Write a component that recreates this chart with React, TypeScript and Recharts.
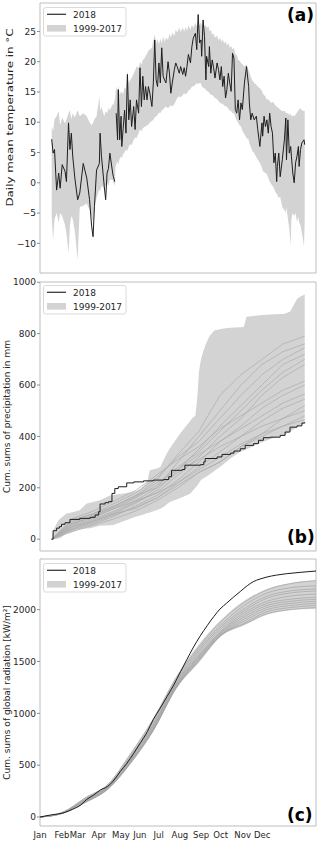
import React from 'react';
import { ComposedChart, Line, Area, XAxis, YAxis, ReferenceArea } from 'recharts';

const FONT = '"DejaVu Sans", sans-serif';

// (a) daily mean temperature, day of year
const tempDays = [
  0, 2, 4, 7, 10, 12, 15, 19, 21, 24,
  26, 28, 30, 33, 37, 40, 45, 50, 54, 57,
  59, 61, 64, 68, 69, 71, 75, 77, 79, 81,
  83, 87, 88, 90, 91, 92, 94, 95, 97, 99,
  100, 102, 104, 106, 108, 110, 112, 114, 117, 119,
  121, 124, 126, 128, 130, 132, 134, 136, 138, 140,
  143, 145, 147, 149, 151, 153, 155, 157, 159, 161,
  163, 166, 168, 170, 172, 175, 177, 179, 182, 184,
  187, 189, 191, 193, 195, 198, 200, 202, 205, 207,
  209, 211, 213, 214, 216, 218, 220, 221, 224, 225,
  227, 229, 231, 233, 236, 238, 240, 242, 244, 246,
  248, 250, 252, 254, 256, 258, 260, 262, 264, 266,
  268, 270, 272, 275, 278, 281, 282, 284, 286, 289,
  292, 294, 297, 300, 301, 303, 305, 307, 309, 311,
  313, 315, 317, 319, 321, 322, 324, 326, 329, 332,
  334, 335, 337, 339, 341, 342, 344, 346, 348, 350,
  352, 353, 355, 357, 360, 361,
];
const temp2018 = [
  7.2, 4.9, 5.5, -1.2, 1.6, -0.9, 3, 1.9, 0.2, 9.9,
  5.5, 8.2, 4.4, 0.8, -2.8, -1.7, 3.2, 0.8, -2.8, -7.2,
  -8.9, -3.9, 2.1, 3.2, 8.2, 4.4, -0.6, -2.8, 1.6, 2.4,
  4.9, 1.6, 1, 0.2, null, 11.5, 7.1, 15.4, 7.1, 11,
  6, 9, 12, 8.2, 17.9, 10.4, 13.7, 9.3, 12.6, 8.8,
  13.7, 11.5, 19, 12.6, 17.6, 13.7, 15.9, 13.7, 15.9, 14.8,
  12.6, 16.5, 23.6, 17, 15.9, 19.8, 16.5, 22.3, 17.6, 17,
  16.5, 20, 18.1, 14.8, 16.5, 18.7, 19.8, 19.2, 18.1, 19.2,
  17.9, 19, 17.6, 19.2, 21.2, 19.8, 22.5, 23.9, 24.7, 22,
  27.8, 23.1, 23.6, 20.9, 26.9, 24.2, 17, 20.9, 19.2, 22.5,
  18.1, 20.3, 19, 17.3, 19.8, 18.7, 17, 19.2, 15.9, 17.6,
  14, 15.4, 18.1, 16.5, 15.1, 21.4, 20.6, 12.1, 11.5, 13.7,
  10.4, 13.2, 12.1, 16.5, 19.2, 15.9, 13.2, 10.4, 11.5, 10.4,
  11, 8.8, 6, 9.9, 7.7, 11, 9.3, 10.4, 8.2, 11.5,
  9.3, 8.2, 3.3, 4.9, 0.2, 2.7, 4.9, 1, 3.8, 7.1,
  10.7, 3.8, 10.4, 4.9, 6, 4.4, 1.6, 0, 3.3, 4.4,
  6, 2.7, 5.5, 6.6, 7.1, 6.3,
];
const tempLow = [
  -5.6, -9.4, -6, -5, -6.5, -5, -5.5, -7, -8.3, -11.6,
  -7, -5.5, -6, -8, -12.7, -4, -3.8, -3.4, -4.5, -5.5,
  -6.5, -4, -2.5, -1, -1.5, -0.5, -1, -0.5, 0, -0.5,
  0.5, 0.5, 0, -0.5, 2.5, 3, 3.5, 3, 4, 4.4,
  4, 4.8, 5, 5.5, 5.3, 6, 6.4, 6.2, 7.1, 7.5,
  7.4, 8.2, 8.8, 8.5, 9, 9.2, 9.3, 9.5, 9.6, 10,
  10.2, 10.4, 10.8, 11, 11.2, 11.6, 11.5, 12, 12.1, 12.4,
  12.6, 12.3, 12.6, 12.8, 12.6, 13, 13.5, 14, 14.3, 14.1,
  14.5, 14.8, 14.6, 14.8, 15.2, 15.5, 15.9, 15.9, 16.2, 16.5,
  16.3, 16.5, 16.4, 16, 15.7, 15.6, 15.4, 15.2, 15, 14.8,
  14.6, 14.5, 14.3, 14, 13.8, 13.5, 13.2, 13.1, 13, 12.8,
  12.6, 12.6, 12.2, 12, 11.8, 11.5, 11.5, 10.8, 10.3, 9.9,
  9.5, 9.3, 8.6, 8, 7.4, 7.1, 6.5, 6, 5.3, 4.9,
  4.2, 3.8, 3.3, 2.5, 2, 1.8, 1.6, 1.4, 0.8, 0.2,
  -0.2, -0.5, -0.8, -1.5, -1.8, -2, -2.5, -2.3, -4, -4.5,
  -5, -4, -6, -7.5, -10.5, -6, -5, -5.5, -5, -6.5,
  -5.6, -6.5, -7, -8.3, -10.5, -6,
];
const tempHigh = [
  9.3, 8.5, 10.5, 11, 11.8, 9.5, 10.8, 9.8, 10.4, 11.5,
  12, 10.5, 11.5, 10.8, 12, 11, 11.5, 11, 10, 9.5,
  9.9, 10.5, 11, 14.3, 12, 12.5, 11, 11.8, 11.5, 12.3,
  12, 13, 12.8, 13.7, 14.5, 15.9, 15, 16, 14.5, 15.2,
  14.8, 14.8, 15.8, 15.5, 18.5, 16.5, 17, 17.3, 18, 18.5,
  19.2, 19, 20, 19.5, 20.3, 20.5, 21, 21.3, 21.8, 22,
  22.3, 23.5, 24.5, 23, 23.8, 22.9, 23.8, 23.1, 24.2, 23.2,
  24, 23.6, 24.6, 24, 24.8, 24.3, 25.3, 24.8, 25.6, 24.9,
  25.6, 25, 25.7, 25.1, 26, 25.3, 26.1, 25.6, 26.4, 25.8,
  26.5, 26, 26.6, 26, 26.5, 25.8, 26.1, 25.6, 25.8, 25,
  25.3, 24.5, 24.6, 24, 24.3, 23.5, 24, 23.3, 23.7, 23,
  23.4, 22.7, 23.1, 22.3, 22.6, 22, 22.3, 21.2, 21.2, 20.3,
  20.2, 19.8, 19.6, 19.2, 19.5, 18.5, 18.2, 17.5, 17, 16.5,
  16.2, 15.9, 15.6, 15.2, 14.8, 14.5, 14.2, 13.7, 13.8, 13.5,
  13.2, 13.4, 13.2, 12.8, 12.6, 12.5, 12.3, 12.1, 11.8, 11.9,
  11.6, 11.5, 11.5, 11.2, 11.4, 11, 11.1, 11, 11.3, 11.6,
  12, 12.1, 12.3, 12, 11.8, 12,
];

// (b) cumulative precipitation
const precipDays2018 = [
  0, 2, 7, 11, 14, 19, 26, 40, 55, 62,
  67, 69, 76, 81, 86, 90, 95, 107, 117, 131,
  145, 160, 167, 171, 186, 190, 212, 217, 219, 236,
  243, 255, 260, 269, 276, 288, 295, 302, 312, 326,
  333, 340, 350, 357, 361,
];
const precip2018 = [
  0, 33, 43, 49, 58, 64, 77, 81, 85, 94,
  107, 137, 142, 146, 178, 197, 204, 219, 223, 227,
  230, 232, 243, 268, 271, 288, 290, 301, 314, 320,
  330, 335, 343, 352, 365, 372, 385, 395, 397, 404,
  417, 436, 441, 452, 455,
];
const precipBandDays = [
  0, 2, 6, 10, 12, 21, 30, 36, 40, 50,
  55, 69, 83, 88, 107, 121, 126, 136, 140, 150,
  155, 160, 164, 169, 183, 198, 200, 205, 208, 210,
  213, 216, 220, 225, 232, 240, 245, 255, 269, 274,
  278, 298, 317, 331, 340, 345, 350, 355, 361,
];
const precipLow = [
  0, 0, 1, 3, 4, 23, 28, 36, 38, 42,
  43, 52, 54, 55, 75, 88, 92, 101, 104, 114,
  118, 126, 135, 146, 159, 178, 185, 200, 210, 218,
  230, 236, 242, 252, 265, 281, 292, 314, 340, 345,
  350, 375, 395, 404, 420, 427, 436, 444, 450,
];
const precipHigh = [
  0, 30, 55, 75, 80, 100, 105, 110, 113, 139,
  142, 152, 170, 172, 180, 188, 195, 220, 268, 275,
  281, 310, 333, 355, 410, 462, 470, 480, 560, 650,
  700, 730, 760, 790, 812, 817, 820, 823, 825, 826,
  866, 872, 875, 876, 885, 910, 935, 945, 952,
];
const precipYearDays = [0, 30, 60, 90, 120, 150, 180, 210, 240, 270, 300, 330, 361];
const precipYears = [
  [0, 60, 90, 130, 170, 230, 330, 420, 560, 640, 700, 760, 790],
  [0, 50, 80, 110, 150, 200, 300, 400, 500, 600, 680, 730, 760],
  [0, 70, 100, 140, 180, 240, 320, 380, 470, 560, 640, 700, 745],
  [0, 40, 70, 100, 140, 190, 270, 350, 440, 520, 600, 680, 720],
  [0, 55, 85, 120, 160, 210, 280, 340, 420, 500, 580, 650, 700],
  [0, 45, 75, 105, 145, 180, 250, 320, 400, 470, 560, 630, 680],
  [0, 80, 110, 150, 190, 250, 310, 360, 430, 480, 530, 580, 615],
  [0, 35, 60, 90, 130, 170, 230, 300, 380, 440, 510, 560, 600],
  [0, 65, 95, 125, 165, 220, 270, 330, 380, 430, 480, 530, 565],
  [0, 50, 70, 100, 120, 160, 220, 280, 340, 400, 460, 510, 545],
  [0, 30, 55, 80, 110, 150, 200, 260, 300, 360, 410, 470, 520],
  [0, 75, 100, 130, 170, 200, 260, 310, 360, 400, 440, 470, 500],
  [0, 40, 65, 95, 125, 160, 210, 260, 300, 360, 400, 440, 480],
  [0, 60, 90, 120, 150, 180, 220, 270, 320, 370, 410, 440, 465],
];

// (c) cumulative global radiation
const radDays2018 = [
  0, 14, 32, 43, 54, 62, 71, 80, 89, 98,
  106, 115, 124, 133, 142, 150, 159, 168, 177, 186,
  194, 203, 212, 221, 230, 238, 247, 256, 265, 274,
  282, 291, 300, 313, 326, 344, 365,
];
const rad2018 = [
  0, 19, 42, 74, 116, 171, 212, 261, 293, 357,
  438, 518, 615, 718, 824, 943, 1050, 1162, 1275, 1404,
  1516, 1639, 1748, 1845, 1935, 2006, 2064, 2122, 2176, 2231,
  2270, 2296, 2315, 2334, 2347, 2360, 2373,
];
const radYearDays = [0, 30, 60, 90, 120, 150, 180, 210, 240, 270, 300, 330, 365];
const radLow = [0, 35, 140, 265, 515, 830, 1240, 1490, 1745, 1850, 1950, 1995, 2009];
const radHigh = [0, 50, 190, 320, 620, 955, 1355, 1665, 1905, 2085, 2200, 2255, 2283];
const radYears = [
  [0, 45, 185, 315, 610, 945, 1340, 1640, 1890, 2070, 2190, 2250, 2280],
  [0, 42, 175, 305, 590, 920, 1320, 1620, 1860, 2040, 2160, 2210, 2230],
  [0, 40, 170, 300, 580, 900, 1300, 1600, 1840, 2010, 2130, 2180, 2200],
  [0, 44, 165, 295, 570, 890, 1290, 1580, 1820, 1990, 2110, 2160, 2180],
  [0, 38, 160, 290, 560, 880, 1280, 1560, 1800, 1970, 2080, 2130, 2150],
  [0, 41, 155, 285, 550, 870, 1270, 1550, 1790, 1950, 2060, 2100, 2120],
  [0, 39, 150, 280, 540, 860, 1260, 1540, 1780, 1930, 2040, 2080, 2100],
  [0, 37, 148, 278, 535, 850, 1255, 1530, 1770, 1910, 2020, 2060, 2080],
  [0, 36, 145, 275, 530, 845, 1250, 1520, 1760, 1890, 2000, 2040, 2060],
  [0, 36, 142, 272, 525, 840, 1245, 1510, 1760, 1870, 1980, 2020, 2040],
  [0, 35, 140, 270, 520, 835, 1240, 1500, 1755, 1860, 1960, 2000, 2020],
];

const dayTicks = [0, 30, 60, 90, 120, 150, 180, 210, 240, 270, 300, 330, 360];
const monthTickDays = [0, 29, 50, 78, 107, 132, 157, 185, 213, 239, 268, 294];
const monthLabels = ['Jan', 'Feb', 'Mar', 'Apr', 'May', 'Jun', 'Jul', 'Aug', 'Sep', 'Oct', 'Nov', 'Dec'];
const legendLabels = ['2018', '1999-2017'];
const yTitles = [
  'Daily mean temperature in °C',
  'Cum. sums of precipitation in mm',
  'Cum. sums of global radiation [kW/m²]',
];

const tempData = tempDays.map((d, i) => ({ d, t: temp2018[i], range: [tempLow[i], tempHigh[i]] }));
const pts = (days: number[], vals: number[]) => days.map((d, i) => ({ d, v: vals[i] }));
const band = (days: number[], lo: number[], hi: number[]) => days.map((d, i) => ({ d, range: [lo[i], hi[i]] }));

const fmtMinus = (v: number) => (v < 0 ? '\u2212' + Math.abs(v) : String(v));

const tickStyle = { fontSize: 9, fill: '#262626', fontFamily: FONT };
const monthTickStyle = { fontSize: 8.5, fill: '#262626', fontFamily: FONT };
const tickLineStyle = { stroke: '#8c8c8c' };
const frameColor = '#bdbdbd';
const bandColor = '#d3d3d3';
const lineColor = '#1e1e1e';

const yLabel = (value: string) => ({
  value,
  angle: -90,
  position: 'insideLeft' as const,
  offset: 7,
  style: { textAnchor: 'middle', fontSize: 9, fill: '#262626', fontFamily: FONT },
});

function LegendBox({ top }: { top: number }) {
  return (
    <g>
      <rect x={43.5} y={top + 0.5} width={82.5} height={28.5} rx={2} fill="#fff" fillOpacity={0.85} stroke="#dadada" />
      <line x1={47} x2={66} y1={top + 7.3} y2={top + 7.3} stroke="#3a3a3a" strokeWidth={1.3} />
      <text x={73} y={top + 11.2} fontSize={9} fill="#262626" fontFamily={FONT}>{legendLabels[0]}</text>
      <rect x={47} y={top + 18} width={19} height={6.6} fill={bandColor} />
      <text x={73} y={top + 24.5} fontSize={9} fill="#262626" fontFamily={FONT}>{legendLabels[1]}</text>
    </g>
  );
}

export default function App() {
  return (
    <div style={{ position: 'absolute', left: 0, top: 0, width: 320, height: 844, background: '#fff' }}>
      {/* (a) */}
      <div style={{ position: 'absolute', left: 0, top: 0 }}>
        <ComposedChart width={320} height={278} data={tempData} margin={{ top: 3, right: 4, bottom: 0, left: 0 }}>
          <XAxis dataKey="d" type="number" domain={[-16.7, 377.1]} allowDataOverflow ticks={dayTicks} interval={0}
            tick={false} tickSize={3} tickLine={tickLineStyle} axisLine={false} height={5} />
          <YAxis type="number" domain={[-14.9, 29.7]} allowDataOverflow ticks={[-10, -5, 0, 5, 10, 15, 20, 25]} interval={0}
            tickFormatter={fmtMinus} width={40} axisLine={false} tickSize={3} tickMargin={1} tick={tickStyle}
            tickLine={tickLineStyle} />
          <Area dataKey="range" type="linear" stroke="none" fill={bandColor} fillOpacity={1} isAnimationActive={false} />
          <Line dataKey="t" type="linear" stroke={lineColor} strokeWidth={1} dot={false} connectNulls={false} isAnimationActive={false} />
          <ReferenceArea x1={-16.7} x2={377.1} y1={-14.9} y2={29.7} fill="none" stroke={frameColor} strokeWidth={1} ifOverflow="visible" />
        </ComposedChart>
      </div>

      {/* (b) */}
      <div style={{ position: 'absolute', left: 0, top: 278 }}>
        <ComposedChart width={320} height={278} margin={{ top: 4, right: 4, bottom: 0, left: 0 }}>
          <XAxis dataKey="d" type="number" domain={[-16.7, 377.1]} allowDataOverflow ticks={dayTicks} interval={0}
            tick={false} tickSize={3} tickLine={tickLineStyle} axisLine={false} height={5} />
          <YAxis type="number" domain={[-46, 1001]} allowDataOverflow ticks={[0, 200, 400, 600, 800, 1000]} interval={0}
            width={40} axisLine={false} tickSize={3} tickMargin={1} tick={tickStyle} tickLine={tickLineStyle}
            label={yLabel(yTitles[1])} />
          <Area data={band(precipBandDays, precipLow, precipHigh)} dataKey="range" type="linear" stroke="none"
            fill={bandColor} fillOpacity={1} isAnimationActive={false} />
          {precipYears.map((vals, i) => (
            <Line key={i} data={pts(precipYearDays, vals)} dataKey="v" type="linear" stroke="#aaaaaa"
              strokeWidth={0.7} dot={false} isAnimationActive={false} />
          ))}
          <Line data={pts(precipDays2018, precip2018)} dataKey="v" type="stepAfter" stroke={lineColor} strokeWidth={1}
            dot={false} isAnimationActive={false} />
          <ReferenceArea x1={-16.7} x2={377.1} y1={-46} y2={1001} fill="none" stroke={frameColor} strokeWidth={1} ifOverflow="visible" />
        </ComposedChart>
      </div>

      {/* (c) */}
      <div style={{ position: 'absolute', left: 0, top: 556 }}>
        <ComposedChart width={320} height={286} margin={{ top: 3, right: 4, bottom: 0, left: 0 }}>
          <XAxis dataKey="d" type="number" domain={[0, 365]} allowDataOverflow ticks={monthTickDays} interval={0}
            tickFormatter={(v: number, i: number) => monthLabels[i]} tick={monthTickStyle} tickLine={false}
            tickSize={0} tickMargin={6} axisLine={false} height={16} />
          <YAxis type="number" domain={[-87, 2489]} allowDataOverflow ticks={[0, 500, 1000, 1500, 2000]} interval={0}
            width={40} axisLine={false} tickSize={3} tickMargin={1} tick={tickStyle} tickLine={tickLineStyle}
            label={yLabel(yTitles[2])} />
          <Area data={band(radYearDays, radLow, radHigh)} dataKey="range" type="monotone" stroke="none"
            fill={bandColor} fillOpacity={1} isAnimationActive={false} />
          {radYears.map((vals, i) => (
            <Line key={i} data={pts(radYearDays, vals)} dataKey="v" type="monotone" stroke="#a4a4a4"
              strokeWidth={0.7} dot={false} isAnimationActive={false} />
          ))}
          <Line data={pts(radDays2018, rad2018)} dataKey="v" type="monotone" stroke={lineColor} strokeWidth={1}
            dot={false} isAnimationActive={false} />
          <ReferenceArea x1={0} x2={365} y1={-87} y2={2489} fill="none" stroke={frameColor} strokeWidth={1} ifOverflow="visible" />
        </ComposedChart>
      </div>

      <svg width={320} height={844} style={{ position: 'absolute', left: 0, top: 0, pointerEvents: 'none' }}>
        {/* temperature axis title, drawn long as in the source figure */}
        <text transform="translate(13.2,117.5) rotate(-90)" textAnchor="middle" fontSize={9} fill="#262626"
          fontFamily={FONT} textLength={178} lengthAdjust="spacingAndGlyphs">{yTitles[0]}</text>
        <LegendBox top={7} />
        <LegendBox top={285} />
        <LegendBox top={563} />
        <text x={287} y={21.2} fontSize={17} fontWeight="bold" fill="#000" fontFamily={FONT}>(a)</text>
        <text x={287} y={543} fontSize={17} fontWeight="bold" fill="#000" fontFamily={FONT}>(b)</text>
        <text x={287} y={821.3} fontSize={17} fontWeight="bold" fill="#000" fontFamily={FONT}>(c)</text>
      </svg>
    </div>
  );
}
